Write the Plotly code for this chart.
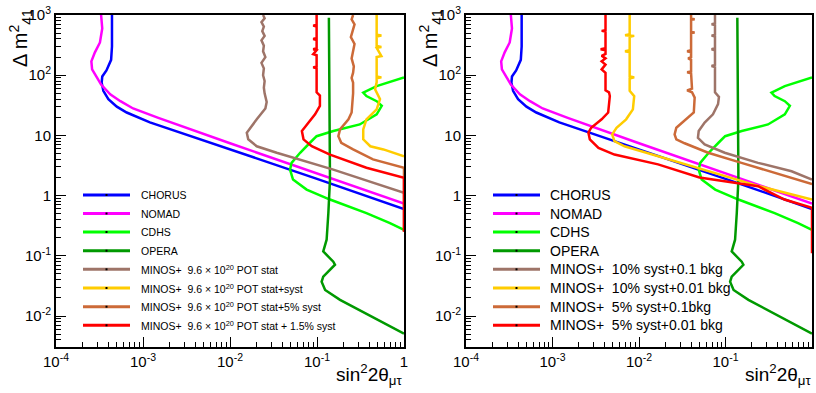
import plotly.graph_objects as go

# ---------------- data ----------------
# shared experimental limits
chorus_x = [4.4e-4, 4.4e-4, 4.3e-4, 3.8e-4, 3.4e-4, 3.35e-4, 3.5e-4, 4.0e-4, 5.0e-4, 6.5e-4, 1.2e-3, 1e-2, 1e-1, 1.0]
chorus_y = [1000, 300, 180, 120, 95, 75, 55, 40, 30, 24, 16.5, 5.9, 1.9, 0.6]

nomad_x = [3.3e-4, 3.4e-4, 3.2e-4, 2.8e-4, 2.55e-4, 2.6e-4, 2.95e-4, 3.3e-4, 4.2e-4, 5.5e-4, 7.7e-4, 1.5e-3, 1e-2, 1e-1, 1.0]
nomad_y = [1000, 600, 350, 240, 170, 125, 92, 70, 48, 37, 28, 19.5, 7.4, 2.35, 0.74]

cdhs_x = [1.0, 0.485, 0.34, 0.37, 0.485, 0.555, 0.485, 0.31, 0.154, 0.099, 0.083, 0.064, 0.051, 0.049, 0.053, 0.076, 0.141, 0.37, 0.69, 1.0]
cdhs_y = [92, 66, 51.5, 45, 37, 31, 22.4, 15.2, 11.8, 9.7, 7.55, 5.15, 3.5, 2.7, 1.85, 1.26, 0.86, 0.51, 0.35, 0.27]

opera_x = [0.137, 0.14, 0.141, 0.135, 0.129, 0.118, 0.129, 0.154, 0.161, 0.141, 0.118, 0.113, 0.124, 0.184, 0.37, 1.0]
opera_y = [900, 30, 1.85, 0.51, 0.185, 0.118, 0.104, 0.08, 0.071, 0.058, 0.045, 0.037, 0.027, 0.0185, 0.011, 0.0051]

# left panel: MINOS+ 9.6e20 POT
stat_x = [0.024, 0.025, 0.023, 0.0245, 0.0235, 0.025, 0.023, 0.0245, 0.024, 0.0255, 0.023, 0.0245, 0.024, 0.025, 0.0245, 0.025, 0.0264, 0.0255, 0.0203, 0.0156, 0.0162, 0.0203, 0.0344, 0.154, 1.0]
stat_y = [1000, 880, 760, 640, 540, 450, 380, 310, 250, 200, 160, 130, 100, 80, 62, 50, 36, 28, 18.5, 11.1, 8.6, 6.6, 5.15, 2.7, 1.11]

syst_x = [0.485, 0.485, 0.55, 0.485, 0.485, 0.55, 0.485, 0.55, 0.485, 0.485, 0.55, 0.485, 0.485, 0.465, 0.53, 0.485, 0.37, 0.34, 0.34, 0.41, 0.58, 0.75, 1.0]
syst_y = [1000, 470, 455, 440, 305, 295, 285, 208, 200, 95, 92, 89, 76, 58, 40, 27, 18.5, 12.6, 8.6, 6.6, 5.85, 5.15, 4.5]

syst5_x = [0.26, 0.25, 0.27, 0.26, 0.245, 0.27, 0.26, 0.25, 0.265, 0.26, 0.25, 0.26, 0.26, 0.25, 0.23, 0.184, 0.176, 0.19, 0.26, 0.44, 1.0, 1.0]
syst5_y = [1000, 850, 700, 560, 430, 330, 250, 190, 140, 110, 90, 75, 50, 24, 18.5, 12.6, 9.7, 7.55, 5.85, 4.0, 2.9, 0.25]

syst15_x = [0.099, 0.099, 0.0905, 0.099, 0.099, 0.0905, 0.099, 0.099, 0.0905, 0.099, 0.0905, 0.099, 0.099, 0.0905, 0.099, 0.099, 0.108, 0.108, 0.095, 0.076, 0.067, 0.07, 0.087, 0.141, 0.37, 1.0, 1.0]
syst15_y = [1000, 690, 665, 640, 415, 400, 385, 280, 270, 260, 224, 215, 140, 135, 130, 52, 46, 31, 22.4, 15.2, 11.8, 8.6, 6.6, 4.8, 2.9, 1.97, 0.25]

# right panel: MINOS+ systematic / background scenarios
b10_01_x = [0.0756, 0.0756, 0.069, 0.0756, 0.0756, 0.069, 0.0756, 0.0756, 0.069, 0.0756, 0.0756, 0.069, 0.0756, 0.0756, 0.084, 0.082, 0.0716, 0.0574, 0.049, 0.048, 0.0574, 0.098, 0.238, 0.58, 1.0]
b10_01_y = [1000, 720, 700, 680, 470, 455, 440, 280, 270, 260, 148, 142, 136, 52, 43.5, 33, 22.4, 16.3, 11.8, 9.1, 7.1, 5.15, 3.5, 2.54, 1.85]

b10_001_x = [0.0078, 0.0078, 0.0069, 0.0088, 0.0078, 0.0078, 0.0069, 0.0078, 0.0078, 0.0088, 0.0078, 0.0078, 0.0088, 0.0085, 0.0071, 0.0055, 0.0049, 0.0052, 0.0068, 0.0166, 0.063, 0.238, 1.0]
b10_001_y = [1000, 480, 462, 450, 435, 260, 250, 240, 96, 92, 88, 55, 45, 27, 18.5, 13.4, 10.4, 8.0, 6.6, 4.5, 2.5, 1.45, 0.86]

b5_01_x = [0.040, 0.040, 0.044, 0.040, 0.040, 0.044, 0.040, 0.040, 0.036, 0.040, 0.040, 0.037, 0.040, 0.040, 0.036, 0.040, 0.041, 0.036, 0.041, 0.044, 0.043, 0.0352, 0.027, 0.0258, 0.027, 0.0337, 0.063, 0.153, 0.37, 1.0]
b5_01_y = [1000, 870, 850, 830, 520, 510, 500, 260, 250, 240, 200, 190, 180, 115, 112, 108, 60, 56, 52, 42.5, 24, 18.5, 13.4, 10.4, 8.6, 7.4, 5.15, 3.5, 2.4, 1.55]

b5_001_x = [0.0041, 0.0041, 0.0037, 0.0041, 0.0041, 0.0036, 0.0041, 0.0041, 0.0037, 0.0041, 0.0037, 0.0041, 0.0037, 0.0041, 0.0041, 0.0045, 0.0046, 0.0044, 0.0037, 0.0028, 0.0026, 0.0027, 0.0034, 0.0052, 0.0166, 0.05, 0.238, 0.48, 1.0, 1.0]
b5_001_y = [1000, 560, 545, 530, 280, 270, 260, 225, 210, 190, 170, 150, 125, 110, 56, 52, 45, 24, 18.5, 13.4, 11.1, 8.6, 6.2, 4.8, 3.3, 2.0, 1.43, 0.86, 0.63, 0.11]

x_tickvals = [1e-4, 1e-3, 1e-2, 1e-1, 1]
x_ticktext = ["10<sup>-4</sup>", "10<sup>-3</sup>", "10<sup>-2</sup>", "10<sup>-1</sup>", "1"]
y_tickvals = [1e-2, 1e-1, 1, 10, 100, 1000]
y_ticktext = ["10<sup>-2</sup>", "10<sup>-1</sup>", "1", "10", "10<sup>2</sup>", "10<sup>3</sup>"]

NB = "\u00a0"
left_labels = ["CHORUS", "NOMAD", "CDHS", "OPERA",
               "MINOS+" + NB * 2 + "9.6 × 10<sup>20</sup> POT stat",
               "MINOS+" + NB * 2 + "9.6 × 10<sup>20</sup> POT stat+syst",
               "MINOS+" + NB * 2 + "9.6 × 10<sup>20</sup> POT stat+5% syst",
               "MINOS+" + NB * 2 + "9.6 × 10<sup>20</sup> POT stat + 1.5% syst"]
right_labels = ["CHORUS", "NOMAD", "CDHS", "OPERA",
                "MINOS+" + NB * 2 + "10% syst+0.1 bkg",
                "MINOS+" + NB * 2 + "10% syst+0.01 bkg",
                "MINOS+" + NB * 2 + "5% syst+0.1bkg",
                "MINOS+" + NB * 2 + "5% syst+0.01 bkg"]

colors = ["#0000ff", "#ff00ff", "#00ff00", "#009900", "#9e7468", "#ffcc00", "#cc6a38", "#ff0000"]

left_series = [(chorus_x, chorus_y), (nomad_x, nomad_y), (cdhs_x, cdhs_y), (opera_x, opera_y),
               (stat_x, stat_y), (syst_x, syst_y), (syst5_x, syst5_y), (syst15_x, syst15_y)]
right_series = [(chorus_x, chorus_y), (nomad_x, nomad_y), (cdhs_x, cdhs_y), (opera_x, opera_y),
                (b10_01_x, b10_01_y), (b10_001_x, b10_001_y), (b5_01_x, b5_01_y), (b5_001_x, b5_001_y)]

# ---------------- figure ----------------
W, H = 816, 393
def fx(p): return p / W
def fy(p): return 1 - p / H

fig = go.Figure()
for (xs, ys), c, name in zip(left_series, colors, left_labels):
    fig.add_trace(go.Scatter(x=xs, y=ys, mode="lines", line=dict(color=c, width=2.5),
                             xaxis="x", yaxis="y", name=name, showlegend=False))
for (xs, ys), c, name in zip(right_series, colors, right_labels):
    fig.add_trace(go.Scatter(x=xs, y=ys, mode="lines", line=dict(color=c, width=2.5),
                             xaxis="x2", yaxis="y2", name=name, showlegend=False))

FONT = "Liberation Sans, Arial, Helvetica, sans-serif"
common = dict(type="log", showline=True, linecolor="black", linewidth=2, mirror=True,
              ticks="inside", ticklen=10, tickwidth=1, tickcolor="black",
              showgrid=False, zeroline=False, automargin=False,
              tickfont=dict(family=FONT, size=15, color="black"),
              minor=dict(ticks="inside", ticklen=5, tickwidth=1, tickcolor="black",
                         showgrid=False, dtick="D1"))
ydom = [fy(347), fy(15)]
fig.update_layout(
    width=W, height=H, margin=dict(l=0, r=0, t=0, b=0),
    paper_bgcolor="white", plot_bgcolor="white", showlegend=False,
    template="none",
    xaxis=dict(domain=[fx(56), fx(404)], range=[-4, 0], anchor="y",
               tickmode="array", tickvals=x_tickvals, ticktext=x_ticktext, **common),
    yaxis=dict(domain=ydom, range=[-2.515, 3], anchor="x",
               tickmode="array", tickvals=y_tickvals, ticktext=y_ticktext, **common),
    xaxis2=dict(domain=[fx(466), fx(812)], range=[-4, 0], anchor="y2",
                tickmode="array", tickvals=x_tickvals, ticktext=x_ticktext, **common),
    yaxis2=dict(domain=ydom, range=[-2.515, 3], anchor="x2",
                tickmode="array", tickvals=y_tickvals, ticktext=y_ticktext, **common),
)

annotations = []
shapes = []
# axis titles
for off in (0, 410):
    annotations.append(dict(x=fx(21 + off), y=fy(38), xref="paper", yref="paper",
                            text="Δ m<sup>2</sup><sub>41</sub>", textangle=-90, showarrow=False,
                            xanchor="center", yanchor="middle",
                            font=dict(family=FONT, size=20, color="black")))
for xr in (405, 814):
    annotations.append(dict(x=fx(xr), y=fy(374), xref="paper", yref="paper",
                            text="sin<sup>2</sup>2θ<sub>μτ</sub>", showarrow=False,
                            xanchor="right", yanchor="middle",
                            font=dict(family=FONT, size=19, color="black")))

# legends
legend_rows = [195, 213.5, 232, 250.7, 269.3, 288, 306.7, 325.3]
for labels, x0, x1, xt, fs in ((left_labels, 83, 130, 139, 10.5), (right_labels, 493, 540, 548, 14)):
    for lab, c, yy in zip(labels, colors, legend_rows):
        shapes.append(dict(type="line", xref="paper", yref="paper",
                           x0=fx(x0), x1=fx(x1), y0=fy(yy), y1=fy(yy),
                           line=dict(color=c, width=3)))
        xm = (x0 + x1) / 2
        shapes.append(dict(type="rect", xref="paper", yref="paper",
                           x0=fx(xm - 1), x1=fx(xm + 1), y0=fy(yy + 1), y1=fy(yy - 1),
                           line=dict(width=0), fillcolor="black"))
        annotations.append(dict(x=fx(xt), y=fy(yy), xref="paper", yref="paper",
                                text=lab, showarrow=False, xanchor="left", yanchor="middle",
                                font=dict(family=FONT, size=fs, color="black")))

fig.update_layout(annotations=annotations, shapes=shapes)
fig.write_html("out.html")
